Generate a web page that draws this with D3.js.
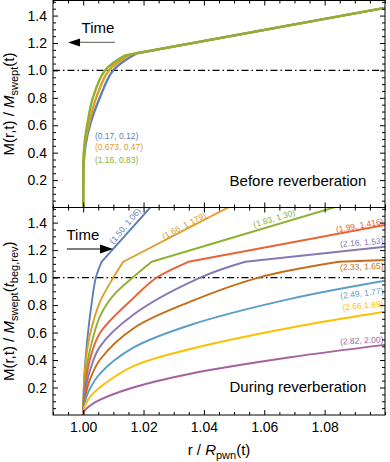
<!DOCTYPE html>
<html><head><meta charset="utf-8">
<script src="https://cdn.jsdelivr.net/npm/d3@7"></script>
<style>
body{margin:0;background:#fff}
svg{display:block}
text{font-family:"Liberation Sans",Arial,Helvetica,sans-serif}
</style>
</head><body>
<svg id="c" width="390" height="462"></svg>
<script>
// ---------------- DATA ----------------
const xTickValues = [1.00, 1.02, 1.04, 1.06, 1.08];
const xTickLabels = ["1.00", "1.02", "1.04", "1.06", "1.08"];
const yTickValues = [0.2, 0.4, 0.6, 0.8, 1.0, 1.2, 1.4];
const yTickLabels = ["0.2", "0.4", "0.6", "0.8", "1.0", "1.2", "1.4"];

const colors = ["#5E81B5", "#E19C24", "#8FB032", "#EB6235", "#8778B3", "#C56E1A", "#5D9EC7", "#FFBF00", "#A5609D"];

// Top panel (before reverberation): [r/Rpwn, M/Mswept]; curved part then straight part
const topLabels = ["(0.17, 0.12)", "(0.673, 0.47)", "(1.16, 0.83)"];
const topBlueCurve   = [[1.0, 0], [1.00005, 0.2], [1.0002, 0.33], [1.0009, 0.47], [1.0025, 0.62], [1.0055, 0.80], [1.0099, 1.0], [1.0178, 1.125]];
const topOrangeCurve = [[1.0, 0], [1.00004, 0.22], [1.0002, 0.37], [1.0007, 0.48], [1.0018, 0.60], [1.0043, 0.80], [1.0085, 1.0], [1.0158, 1.117]];
const topGreenCurve  = [[1.0, 0], [1.00003, 0.25], [1.0002, 0.40], [1.0006, 0.50], [1.0013, 0.60], [1.0032, 0.80], [1.0072, 1.0], [1.0139, 1.11]];
const topBlueLine    = [[1.0178, 1.125], [1.10, 1.456]];
const topOrangeLine  = [[1.0158, 1.117], [1.10, 1.456]];
const topGreenLine   = [[1.0139, 1.11], [1.10, 1.456]];

// Bottom panel (during reverberation)
const botLabels = ["(1.50, 1.06)", "(1.66, 1.179)", "(1.83, 1.30)", "(1.99, 1.416)", "(2.16, 1.53)",
                   "(2.33, 1.65)", "(2.49, 1.77)", "(2.66,1.89)", "(2.82, 2.00)"];
const bot1Curve = [[1.0, 0], [1.0003, 0.25], [1.0009, 0.44], [1.0017, 0.62], [1.0028, 0.81], [1.0042, 1.0], [1.0061, 1.115]];
const bot1Line  = [[1.0061, 1.115], [1.0222, 1.51], [1.025, 1.58]];
const bot2Curve = [[1.0, 0], [1.0004, 0.28], [1.0010, 0.42], [1.0022, 0.58], [1.0055, 0.82], [1.0100, 1.0], [1.0133, 1.115]];
const bot2Line  = [[1.0133, 1.115], [1.048, 1.51], [1.052, 1.55]];
const bot3Curve = [[1.0, 0], [1.0004, 0.21], [1.0010, 0.32], [1.0022, 0.47], [1.0055, 0.714], [1.0100, 0.87], [1.0164, 1.0], [1.0227, 1.115]];
const bot3Line  = [[1.0227, 1.115], [1.083, 1.51], [1.086, 1.53]];
const bot4Curve = [[1.0, 0], [1.0004, 0.17], [1.0010, 0.26], [1.0022, 0.40], [1.0055, 0.595], [1.0166, 0.85], [1.0244, 1.0], [1.0349, 1.115]];
const bot4Line  = [[1.0349, 1.115], [1.10, 1.383]];
const bot5Curve = [[1.0, 0], [1.0004, 0.135], [1.0010, 0.21], [1.0022, 0.32], [1.0055, 0.496], [1.0166, 0.73], [1.0388, 1.0], [1.0537, 1.115]];
const bot5Line  = [[1.0537, 1.115], [1.10, 1.224]];
const bot6Curve = [[1.0, 0], [1.0004, 0.105], [1.0010, 0.165], [1.0022, 0.255], [1.0055, 0.40], [1.0166, 0.63], [1.0355, 0.825], [1.0581, 1.0], [1.0847, 1.115]];
const bot6Line  = [[1.0847, 1.115], [1.10, 1.128]];
const bot7Curve = [[1.0, 0], [1.0004, 0.08], [1.0010, 0.125], [1.0022, 0.19], [1.0055, 0.30], [1.0166, 0.49], [1.0355, 0.655], [1.0686, 0.845], [1.10, 0.977]];
const bot8Curve = [[1.0, 0], [1.0004, 0.055], [1.0010, 0.085], [1.0022, 0.13], [1.0055, 0.20], [1.0166, 0.355], [1.0355, 0.48], [1.0686, 0.635], [1.10, 0.751]];
const bot9Curve = [[1.0, 0], [1.0004, 0.028], [1.0010, 0.045], [1.0022, 0.068], [1.0055, 0.11], [1.0166, 0.20], [1.0355, 0.30], [1.0686, 0.42], [1.10, 0.51]];

// label anchors in data coordinates [r, M, angle, anchor]
const botLabelAnchors = [[1.0155, 1.345, -50, "middle"], [1.0344, 1.335, -28, "middle"], [1.0639, 1.385, -17, "middle"],
                         [1.0995, 1.405, -10, "end"], [1.0995, 1.262, -4, "end"], [1.0995, 1.08, -2, "end"],
                         [1.0995, 0.90, -7, "end"], [1.0995, 0.805, -5, "end"], [1.0995, 0.545, -3, "end"]];
const topLabelAnchors = [[1.0039, 0.50], [1.0039, 0.42], [1.0039, 0.325]];

// ---------------- LAYOUT ----------------
const svg = d3.select("#c");
const L = 53, R = 385;
const x = d3.scaleLinear().domain([0.99, 1.10]).range([L, R]);
const yTop = d3.scaleLinear().domain([0, 1.51]).range([207.5, 0.5]);
const yBot = d3.scaleLinear().domain([0, 1.51]).range([415, 207.5]);

const xMinor = d3.range(0, 23).map(i => 0.99 + i * 0.005).filter(v => !xTickValues.some(m => Math.abs(m - v) < 1e-9) && v <= 1.1);
const yMinor = d3.range(1, 31).map(i => i * 0.05).filter(v => !yTickValues.some(m => Math.abs(m - v) < 1e-9) && v < 1.51);

function axes(y, showX) {
  const g = svg.append("g");
  const y0 = y.range()[0], y1 = y.range()[1];
  const fmtX = d => showX ? xTickLabels[xTickValues.indexOf(d)] : "";
  const fmtY = d => yTickLabels[yTickValues.indexOf(d)];
  g.append("g").attr("transform", `translate(0,${y0})`)
    .call(d3.axisBottom(x).tickValues(xTickValues).tickSizeInner(-5).tickSizeOuter(0).tickPadding(7).tickFormat(fmtX));
  g.append("g").attr("transform", `translate(0,${y0})`)
    .call(d3.axisBottom(x).tickValues(xMinor).tickSizeInner(-3).tickSizeOuter(0).tickFormat(""));
  g.append("g").attr("transform", `translate(0,${y1})`)
    .call(d3.axisTop(x).tickValues(xTickValues).tickSizeInner(-5).tickSizeOuter(0).tickFormat(""));
  g.append("g").attr("transform", `translate(0,${y1})`)
    .call(d3.axisTop(x).tickValues(xMinor).tickSizeInner(-3).tickSizeOuter(0).tickFormat(""));
  g.append("g").attr("transform", `translate(${L},0)`)
    .call(d3.axisLeft(y).tickValues(yTickValues).tickSizeInner(-5).tickSizeOuter(0).tickPadding(6).tickFormat(fmtY));
  g.append("g").attr("transform", `translate(${L},0)`)
    .call(d3.axisLeft(y).tickValues(yMinor).tickSizeInner(-3).tickSizeOuter(0).tickFormat(""));
  g.append("g").attr("transform", `translate(${R},0)`)
    .call(d3.axisRight(y).tickValues(yTickValues).tickSizeInner(-5).tickSizeOuter(0).tickFormat(""));
  g.append("g").attr("transform", `translate(${R},0)`)
    .call(d3.axisRight(y).tickValues(yMinor).tickSizeInner(-3).tickSizeOuter(0).tickFormat(""));
  g.selectAll(".domain").remove();
  g.selectAll(".tick line").attr("stroke", "#000").attr("stroke-width", 1);
  g.selectAll(".tick text").attr("font-size", 14).attr("fill", "#000")
    .attr("font-family", '"Liberation Sans",Arial,sans-serif');
  svg.append("rect").attr("x", L).attr("y", y1).attr("width", R - L).attr("height", y0 - y1)
    .attr("fill", "none").attr("stroke", "#000").attr("stroke-width", 1);
}

function clipFor(id, y) {
  svg.append("clipPath").attr("id", id).append("rect")
    .attr("x", L).attr("y", y.range()[1]).attr("width", R - L).attr("height", y.range()[0] - y.range()[1]);
}
clipFor("cTop", yTop);
clipFor("cBot", yBot);

function refLine(y) {
  svg.append("line").attr("x1", L).attr("x2", R).attr("y1", y(1.0)).attr("y2", y(1.0))
    .attr("stroke", "#000").attr("stroke-width", 1.1).attr("stroke-dasharray", "7,3,1.5,3");
}

function drawSeries(y, clip, curvePts, linePts, color, w) {
  const g = svg.append("g").attr("clip-path", `url(#${clip})`);
  const lc = d3.line().x(d => x(d[0])).y(d => y(d[1])).curve(d3.curveCatmullRom.alpha(0.5));
  const ll = d3.line().x(d => x(d[0])).y(d => y(d[1]));
  g.append("path").attr("d", lc(curvePts)).attr("fill", "none").attr("stroke", color)
    .attr("stroke-width", w).attr("stroke-linejoin", "round");
  if (linePts) g.append("path").attr("d", ll(linePts)).attr("fill", "none").attr("stroke", color)
    .attr("stroke-width", w).attr("stroke-linecap", "round").attr("stroke-linejoin", "round");
}

// ---------- TOP PANEL ----------
refLine(yTop);
const topCurves = [topBlueCurve, topOrangeCurve, topGreenCurve];
const topLines = [topBlueLine, topOrangeLine, topGreenLine];
topCurves.forEach((c, i) => drawSeries(yTop, "cTop", c, topLines[i], colors[i], 2.4));
topLabels.forEach((t, i) => {
  svg.append("text").attr("x", x(topLabelAnchors[i][0])).attr("y", yTop(topLabelAnchors[i][1]))
    .attr("font-size", 8.5).attr("fill", colors[i]).text(t);
});
axes(yTop, false);

// ---------- BOTTOM PANEL ----------
refLine(yBot);
const botCurves = [bot1Curve, bot2Curve, bot3Curve, bot4Curve, bot5Curve, bot6Curve, bot7Curve, bot8Curve, bot9Curve];
const botLines = [bot1Line, bot2Line, bot3Line, bot4Line, bot5Line, bot6Line, null, null, null];
botCurves.forEach((c, i) => drawSeries(yBot, "cBot", c, botLines[i], colors[i], 1.9));
botLabels.forEach((t, i) => {
  const a = botLabelAnchors[i];
  const px = x(a[0]), py = yBot(a[1]);
  const txt = svg.append("text").attr("transform", `translate(${px},${py}) rotate(${a[2]})`)
    .attr("text-anchor", a[3]).attr("font-size", 8.5).attr("fill", colors[i]).text(t);
  if (a[3] === "middle") txt.attr("dy", -3.5); else txt.attr("dominant-baseline", "middle");
});
axes(yBot, true);

// ---------- ANNOTATIONS ----------
svg.append("text").attr("x", x(1.0049)).attr("y", yTop(1.27)).attr("text-anchor", "middle")
  .attr("font-size", 15).text("Time");
svg.append("line").attr("x1", x(1.0105)).attr("x2", x(0.999)).attr("y1", yTop(1.204)).attr("y2", yTop(1.204))
  .attr("stroke", "#777").attr("stroke-width", 1.2);
{
  const tx = x(0.995), ty = yTop(1.204);
  svg.append("path").attr("d", `M${tx},${ty} L${tx + 12},${ty - 4} L${tx + 12},${ty + 4} Z`).attr("fill", "#000");
}
svg.append("text").attr("x", x(0.9999)).attr("y", yBot(1.274)).attr("text-anchor", "middle")
  .attr("font-size", 15).text("Time");
svg.append("line").attr("x1", x(0.9946)).attr("x2", x(1.006)).attr("y1", yBot(1.208)).attr("y2", yBot(1.208))
  .attr("stroke", "#000").attr("stroke-width", 1.2);
{
  const tx = x(1.0099), ty = yBot(1.208);
  svg.append("path").attr("d", `M${tx},${ty} L${tx - 13},${ty - 4.5} L${tx - 13},${ty + 4.5} Z`).attr("fill", "#000");
}

svg.append("text").attr("x", x(1.0938)).attr("y", yTop(0.16)).attr("text-anchor", "end")
  .attr("font-size", 15).text("Before reverberation");
svg.append("text").attr("x", x(1.0938)).attr("y", yBot(0.164)).attr("text-anchor", "end")
  .attr("font-size", 15).text("During reverberation");

const xt = svg.append("text").attr("x", (L + R) / 2).attr("y", 455).attr("text-anchor", "middle").attr("font-size", 15);
xt.append("tspan").text("r / ");
xt.append("tspan").attr("font-style", "italic").text("R");
xt.append("tspan").attr("font-size", 11).attr("dy", 3.5).text("pwn");
xt.append("tspan").attr("dy", -3.5).text("(t)");

function yTitle(cy, withBeg) {
  const t = svg.append("text").attr("transform", `translate(14,${cy}) rotate(-90)`)
    .attr("text-anchor", "middle").attr("font-size", 15);
  t.append("tspan").text("M(r,t) / ");
  t.append("tspan").attr("font-style", "italic").text("M");
  t.append("tspan").attr("font-size", 11).attr("dy", 3.5).text("swept");
  if (withBeg) {
    t.append("tspan").attr("dy", -3.5).text("(");
    t.append("tspan").attr("font-style", "italic").text("t");
    t.append("tspan").attr("font-size", 11).attr("dy", 3.5).text("beg,rev");
    t.append("tspan").attr("dy", -3.5).text(")");
  } else {
    t.append("tspan").attr("dy", -3.5).text("(t)");
  }
}
yTitle((yTop.range()[0] + yTop.range()[1]) / 2, false);
yTitle((yBot.range()[0] + yBot.range()[1]) / 2, true);
</script>
</body></html>
